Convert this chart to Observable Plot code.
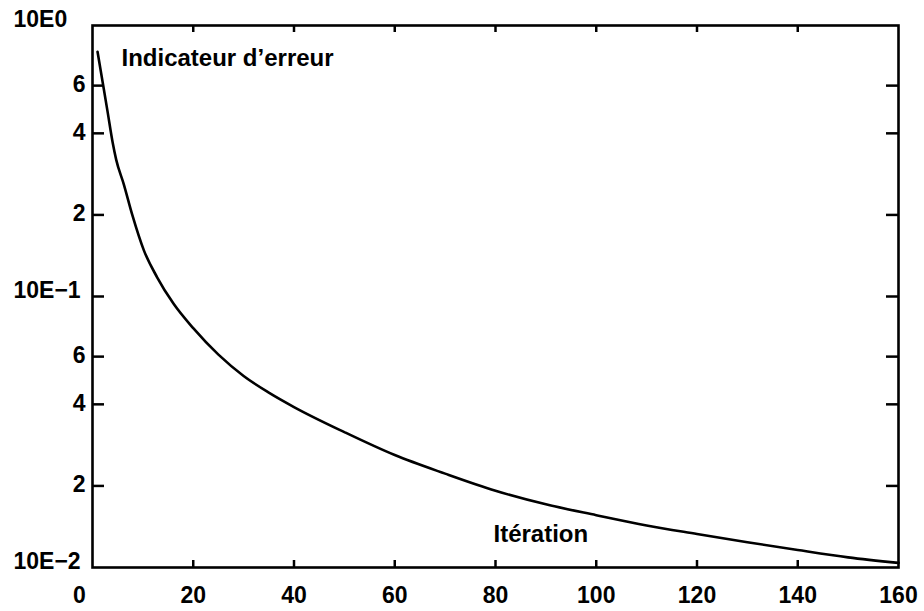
<!DOCTYPE html>
<html>
<head>
<meta charset="utf-8">
<script src="https://cdn.jsdelivr.net/npm/d3@7"></script>
<script src="https://cdn.jsdelivr.net/npm/@observablehq/plot@0.6"></script>
<style>
  html, body { margin: 0; padding: 0; background: #fff; }
  svg { display: block; }
</style>
</head>
<body>
<div id="chart"></div>
<script>
// Data
const iterations = [1, 2, 3, 4, 4.7, 6.2, 7.9, 10.2, 12.8, 16.1, 20, 25, 30, 35, 40, 50, 60, 70, 80, 90, 100, 110, 120, 130, 140, 150, 160];
const errorValues = [0.80, 0.62, 0.48, 0.37, 0.32, 0.26, 0.20, 0.148, 0.118, 0.094, 0.0764, 0.0610, 0.0509, 0.0442, 0.0391, 0.0316, 0.0260, 0.0222, 0.0192, 0.0171, 0.0156, 0.0143, 0.0133, 0.0124, 0.0116, 0.0109, 0.0104];

const xTickValues = [0, 20, 40, 60, 80, 100, 120, 140, 160];
const xInnerTicks = [20, 40, 60, 80, 100, 120, 140];
const yDecadeTicks = [1, 0.1, 0.01];
const yDecadeLabels = ["10E0", "10E\u22121", "10E\u22122"];
const yMinorTicks = [0.6, 0.4, 0.2, 0.06, 0.04, 0.02];
const yMinorLabels = ["6", "4", "2", "6", "4", "2"];
const yInnerTicks = [0.6, 0.4, 0.2, 0.1, 0.06, 0.04, 0.02];
const yLabelTitle = "Indicateur d\u2019erreur";
const xLabelTitle = "It\u00e9ration";

const data = iterations.map((x, i) => ({x, y: errorValues[i]}));

const W = 924, H = 611;
const mL = 92, mR = 26, mT = 25, mB = 44;
const innerW = W - mL - mR, innerH = H - mT - mB;
const font = "'Liberation Sans', Arial, Helvetica, sans-serif";

const decadeFmt = d => yDecadeLabels[yDecadeTicks.indexOf(d)];
const minorFmt = d => yMinorLabels[yMinorTicks.indexOf(d)];

const chart = Plot.plot({
  width: W,
  height: H,
  marginLeft: mL,
  marginRight: mR,
  marginTop: mT,
  marginBottom: mB,
  style: {fontFamily: font, fontWeight: "bold", color: "#000", background: "#fff"},
  x: {domain: [0, 160]},
  y: {type: "log", domain: [0.01, 1]},
  marks: [
    // inward ticks on the four sides
    Plot.tickY(yInnerTicks, {y: d => d, insetRight: innerW - 12, stroke: "#000", strokeWidth: 2.5}),
    Plot.tickY(yInnerTicks, {y: d => d, insetLeft: innerW - 12, stroke: "#000", strokeWidth: 2.5}),
    Plot.tickX(xInnerTicks, {x: d => d, insetTop: innerH - 7, stroke: "#000", strokeWidth: 2.5}),
    Plot.tickX(xInnerTicks, {x: d => d, insetBottom: innerH - 7, stroke: "#000", strokeWidth: 2.5}),
    // y labels
    Plot.axisY(yDecadeTicks, {anchor: "left", tickSize: 0, tickPadding: 79, textAnchor: "start", lineAnchor: "bottom", dy: 1, tickFormat: decadeFmt, fontSize: 23, fontWeight: "bold", label: null}),
    Plot.axisY(yMinorTicks, {anchor: "left", tickSize: 0, tickPadding: 7, textAnchor: "end", dy: -1, tickFormat: minorFmt, fontSize: 23, fontWeight: "bold", label: null}),
    // x labels
    Plot.axisX(xTickValues.filter(d => d === 0), {anchor: "bottom", tickSize: 0, tickPadding: 19, lineAnchor: "top", dx: -13, tickFormat: d => String(d), fontSize: 23, fontWeight: "bold", label: null}),
    Plot.axisX(xTickValues.filter(d => d !== 0), {anchor: "bottom", tickSize: 0, tickPadding: 19, lineAnchor: "top", tickFormat: d => String(d), fontSize: 23, fontWeight: "bold", label: null}),
    // curve
    Plot.line(data, {x: "x", y: "y", stroke: "#000", strokeWidth: 2.6, curve: "monotone-x"}),
    // in-plot titles
    Plot.text([yLabelTitle], {frameAnchor: "top-left", dx: 29, dy: 23, textAnchor: "start", lineAnchor: "top", fontSize: 24, fontWeight: "bold", fill: "#000"}),
    Plot.text([xLabelTitle], {frameAnchor: "bottom-left", dx: 401, dy: -43, textAnchor: "start", lineAnchor: "top", fontSize: 24, fontWeight: "bold", fill: "#000"}),
    Plot.frame({stroke: "#000", strokeWidth: 2.6})
  ]
});

document.getElementById("chart").appendChild(chart);
</script>
</body>
</html>
